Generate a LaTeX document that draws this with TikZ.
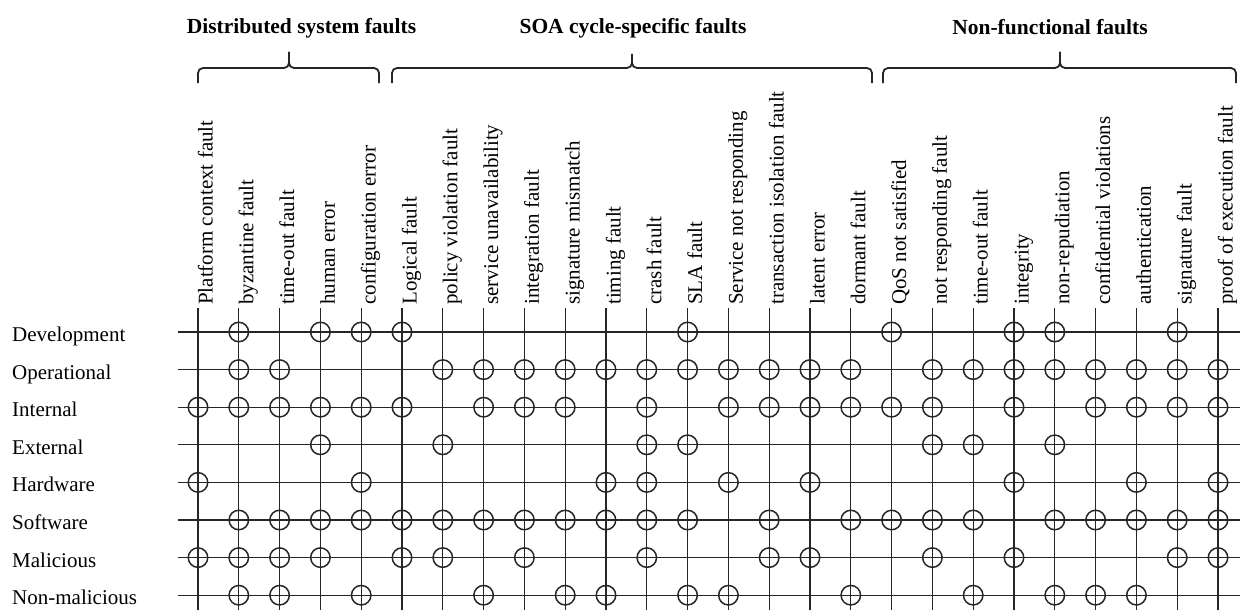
\documentclass[tikz,border=0pt]{standalone}
\usepackage{fontspec}
\setmainfont{Liberation Serif}
\begin{document}
\begin{tikzpicture}[x=1pt,y=-1pt,
  gridline/.style={line width=1.3pt, black!85},
  hit/.style={circle, draw=black!85, line width=1.5pt, minimum size=19.5pt, inner sep=0pt},
  collabel/.style={rotate=90, anchor=base west, inner sep=0pt, font=\fontsize{21}{24}\selectfont},
  rowlabel/.style={anchor=base west, inner sep=0pt, font=\fontsize{21}{24}\selectfont},
  grouptitle/.style={anchor=base, inner sep=0pt, font=\fontsize{21.5}{24}\selectfont\bfseries},
  bracket/.style={line width=1.8pt, black!85, rounded corners=5pt}]
\useasboundingbox (0,0) rectangle (1242,610);

% fault columns: vertical rule with rotated caption
\foreach \i/\lab in {
  1/Platform context fault, 2/byzantine fault, 3/time-out fault, 4/human error,
  5/configuration error, 6/Logical fault, 7/policy violation fault,
  8/service unavailability, 9/integration fault, 10/signature mismatch,
  11/timing fault, 12/crash fault, 13/SLA fault, 14/Service not responding,
  15/transaction isolation fault, 16/latent error, 17/dormant fault,
  18/QoS not satisfied, 19/not responding fault, 20/time-out fault,
  21/integrity, 22/non-repudiation, 23/confidential violations,
  24/authentication, 25/signature fault, 26/proof of execution fault} {
  \pgfmathsetmacro{\xx}{198+(\i-1)*40.8}
  \coordinate (c\i t) at (\xx,308);
  \coordinate (c\i b) at (\xx,610);
  \node[collabel] (cap\i) at (\xx+14.5,305) {\lab};
  \draw[gridline] (c\i t) -- (c\i b);
}

% fault attributes: horizontal rule with caption
\foreach \j/\lab in {1/Development, 2/Operational, 3/Internal, 4/External,
  5/Hardware, 6/Software, 7/Malicious, 8/Non-malicious} {
  \pgfmathsetmacro{\yy}{332+(\j-1)*37.6}
  \coordinate (r\j l) at (178,\yy);
  \coordinate (r\j r) at (1240,\yy);
  \node[rowlabel] (row\j) at (12,\yy+9.5) {\lab};
  \draw[gridline] (r\j l) -- (r\j r);
}

% circled crossings
\foreach \j/\cols in {
  1/{2,4,5,6,13,18,21,22,25},
  2/{2,3,7,8,9,10,11,12,13,14,15,16,17,19,20,21,22,23,24,25,26},
  3/{1,2,3,4,5,6,8,9,10,12,14,15,16,17,18,19,21,23,24,25,26},
  4/{4,7,12,13,19,20,22},
  5/{1,5,11,12,14,16,21,24,26},
  6/{2,3,4,5,6,7,8,9,10,11,12,13,15,17,18,19,20,22,23,24,25,26},
  7/{1,2,3,4,6,7,9,12,15,16,19,21,25,26},
  8/{2,3,5,8,10,11,13,14,17,20,22,23,24}} {
  \foreach \i in \cols {
    \node[hit] (h\j-\i) at ({198+(\i-1)*40.8},{332+(\j-1)*37.6}) {};
  }
}

% group brackets
\draw[bracket] (198,83) -- (198,68) -- (289,68) -- (289,52);
\draw[bracket] (379,83) -- (379,68) -- (289,68) -- (289,52);
\draw[bracket] (392,83) -- (392,68) -- (632,68) -- (632,54);
\draw[bracket] (872,83) -- (872,68) -- (632,68) -- (632,54);
\draw[bracket] (883,83) -- (883,68) -- (1060,68) -- (1060,52);
\draw[bracket] (1236,83) -- (1236,68) -- (1060,68) -- (1060,52);

% group titles
\node[grouptitle] (g1) at (301.5,33.5) {Distributed system faults};
\node[grouptitle] (g2) at (633,33.5) {SOA cycle-specific faults};
\node[grouptitle] (g3) at (1050,35) {Non-functional faults};
\end{tikzpicture}
\end{document}
